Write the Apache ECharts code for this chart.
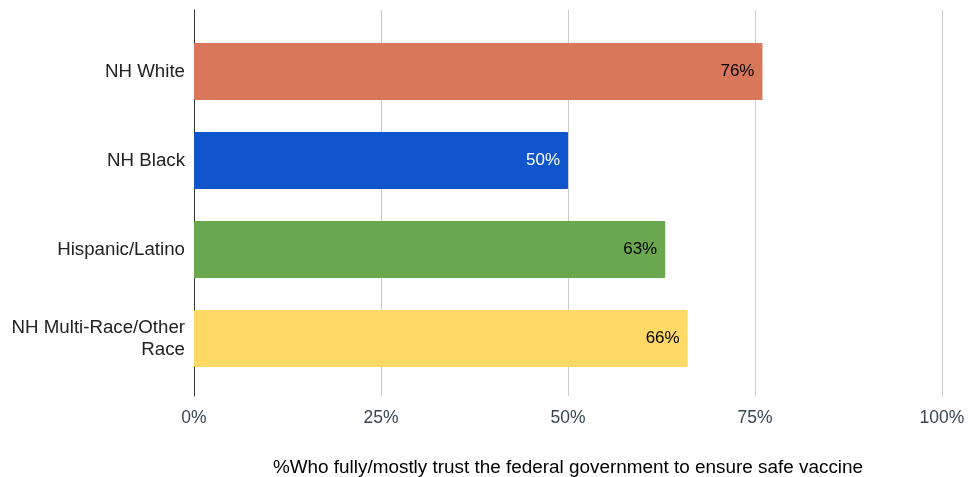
<!DOCTYPE html>
<html><head><meta charset="utf-8">
<script src="https://cdn.jsdelivr.net/npm/echarts@6/dist/echarts.min.js"></script>
<style>html,body{margin:0;padding:0;background:#fff}#c{width:978px;height:477px}</style>
</head><body><div id="c"></div>
<script>
const categories = ['NH White', 'NH Black', 'Hispanic/Latino', 'NH Multi-Race/Other\nRace'];
const values = [76, 50, 63, 66];
const colors = ['#d8775a', '#1155cc', '#6aa84f', '#ffd966'];
const labelColors = ['#000', '#fff', '#000', '#000'];
const xTicks = [0, 25, 50, 75, 100];
const axisTitle = '%Who fully/mostly trust the federal government to ensure safe vaccine';

const font = '"Liberation Sans", Arial, sans-serif';
const chart = echarts.init(document.getElementById('c'));
chart.setOption({
  animation: false,
  grid: [
    {left: 194, right: 36, top: 10, bottom: 81, outerBoundsMode: 'none', containLabel: false},
    {left: 194, right: 36, top: 27, height: 356, outerBoundsMode: 'none', containLabel: false}
  ],
  xAxis: [
    {gridIndex: 0, type: 'value', min: xTicks[0], max: xTicks[xTicks.length-1], interval: 25,
     axisLine: {show: false}, axisTick: {show: false},
     splitLine: {lineStyle: {color: '#cccccc', width: 1}},
     axisLabel: {formatter: v => v + '%', color: '#37474f', fontSize: 17.5, fontFamily: font, margin: 13},
     name: axisTitle, nameLocation: 'middle', nameGap: 62,
     nameTextStyle: {color: '#000', fontSize: 18.9, fontFamily: font}},
    {gridIndex: 1, type: 'value', min: 0, max: 100, show: false}
  ],
  yAxis: [
    {gridIndex: 0, type: 'value', min: 0, max: 1, axisLine: {show: true, onZero: false, lineStyle: {color: '#333', width: 1}},
     axisLabel: {show: false}, axisTick: {show: false}, splitLine: {show: false}},
    {gridIndex: 1, type: 'category', data: categories, inverse: true,
     axisLine: {show: false}, axisTick: {show: false},
     axisLabel: {color: '#222', fontSize: 18.7, fontFamily: font, margin: 9, lineHeight: 22, align: 'right'}}
  ],
  series: [{
    type: 'bar', xAxisIndex: 1, yAxisIndex: 1, barWidth: 57,
    data: values.map((v, i) => ({value: v, itemStyle: {color: colors[i]},
      label: {color: labelColors[i]}})),
    itemStyle: {borderRadius: 1},
    label: {show: true, position: 'insideRight', distance: 8, formatter: p => p.value + '%',
      fontSize: 17, fontFamily: font}
  }]
});
</script></body></html>
